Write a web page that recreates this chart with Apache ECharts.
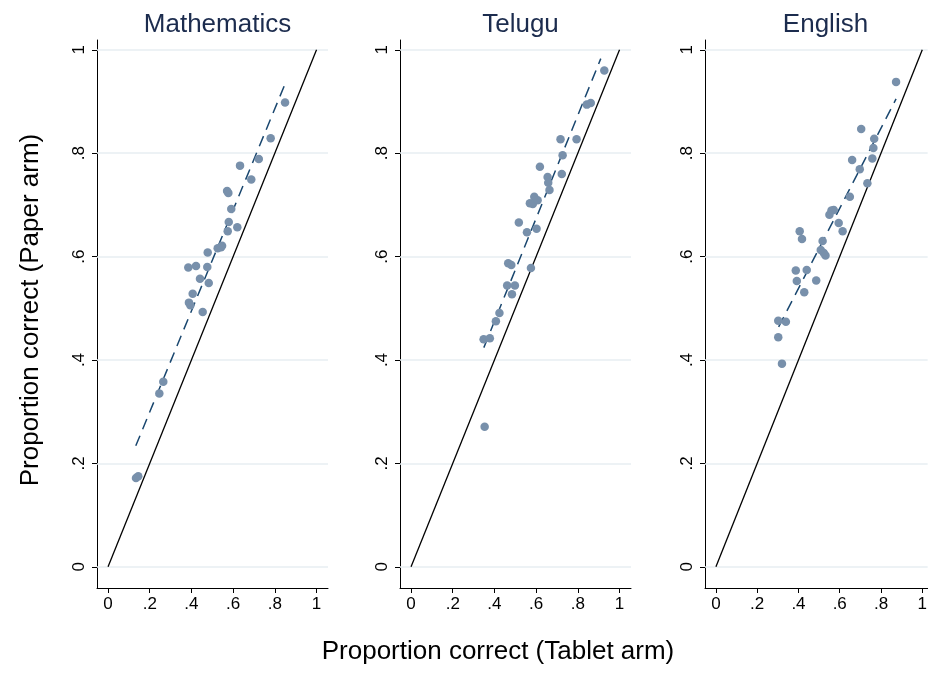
<!DOCTYPE html>
<html>
<head>
<meta charset="utf-8">
<script src="https://cdn.jsdelivr.net/npm/echarts@6/dist/echarts.min.js"></script>
<style>
  html, body { margin: 0; padding: 0; background: #fff; }
  #main { width: 930px; height: 673px; }
</style>
</head>
<body>
<div id="main"></div>
<script>
// tick positions shared by every panel
var ticks = [0, 0.2, 0.4, 0.6, 0.8, 1];
var diagonal = [[0, 0], [1, 1]];
var panelTitles = ["Mathematics", "Telugu", "English"];

// Mathematics: tablet (x) vs paper (y)
var mathTablet = [0.849, 0.780, 0.723, 0.633, 0.687, 0.571, 0.577, 0.591, 0.579, 0.620, 0.574,
  0.547, 0.526, 0.542, 0.478, 0.385, 0.422, 0.476, 0.441, 0.483, 0.406, 0.388, 0.395, 0.454,
  0.265, 0.246, 0.134, 0.145];
var mathPaper = [0.898, 0.829, 0.789, 0.776, 0.749, 0.727, 0.723, 0.692, 0.667, 0.657, 0.649,
  0.621, 0.616, 0.618, 0.608, 0.579, 0.582, 0.580, 0.557, 0.549, 0.528, 0.511, 0.506, 0.493,
  0.358, 0.335, 0.172, 0.175];
var mathFit = [[0.133, 0.234], [0.849, 0.934]];

// Telugu
var teluguTablet = [0.927, 0.843, 0.862, 0.717, 0.794, 0.727, 0.618, 0.723, 0.655, 0.658, 0.664,
  0.591, 0.570, 0.584, 0.607, 0.517, 0.602, 0.556, 0.466, 0.481, 0.575, 0.461, 0.498, 0.484,
  0.424, 0.407, 0.348, 0.378, 0.353];
var teluguPaper = [0.960, 0.894, 0.897, 0.827, 0.827, 0.796, 0.774, 0.760, 0.754, 0.743, 0.729,
  0.716, 0.703, 0.702, 0.709, 0.666, 0.654, 0.647, 0.587, 0.584, 0.578, 0.544, 0.544, 0.527,
  0.491, 0.475, 0.440, 0.442, 0.271];
var teluguFit = [[0.349, 0.424], [0.910, 0.983]];

// English
var englishTablet = [0.873, 0.704, 0.767, 0.763, 0.758, 0.660, 0.697, 0.734, 0.649, 0.571, 0.560,
  0.550, 0.595, 0.614, 0.406, 0.417, 0.517, 0.508, 0.523, 0.531, 0.387, 0.440, 0.392, 0.486,
  0.428, 0.302, 0.339, 0.302, 0.320];
var englishPaper = [0.938, 0.847, 0.828, 0.810, 0.790, 0.787, 0.769, 0.742, 0.716, 0.690, 0.689,
  0.681, 0.665, 0.649, 0.649, 0.634, 0.630, 0.613, 0.607, 0.602, 0.573, 0.574, 0.553, 0.554,
  0.531, 0.476, 0.474, 0.444, 0.393];
var englishFit = [[0.304, 0.464], [0.873, 0.905]];

var panels = [
  { xs: mathTablet, ys: mathPaper, fit: mathFit },
  { xs: teluguTablet, ys: teluguPaper, fit: teluguFit },
  { xs: englishTablet, ys: englishPaper, fit: englishFit }
];

// the last panel is cut off by the right edge, as in the original
var gridLefts = [97, 400, 705];
var gridWidths = [231, 231, 225];
var xMaxes = [1.055, 1.055, 1.026];
var textFont = "Liberation Sans, Arial, sans-serif";

function tickLabel(v) {
  if (v === 0) return "0";
  if (v === 1) return "1";
  return String(v).replace(/^0/, "");
}

var option = {
  backgroundColor: "#fff",
  animation: false,
  title: [],
  grid: [],
  xAxis: [],
  yAxis: [],
  series: [],
  graphic: [
    {
      type: "text",
      x: 498, y: 652,
      style: {
        text: "Proportion correct (Tablet arm)",
        font: "26px " + textFont,
        fill: "#000",
        align: "center",
        verticalAlign: "middle"
      }
    },
    {
      type: "text",
      x: 31, y: 310,
      rotation: Math.PI / 2,
      style: {
        text: "Proportion correct (Paper arm)",
        font: "26px " + textFont,
        fill: "#000",
        align: "center",
        verticalAlign: "middle"
      }
    }
  ]
};

panels.forEach(function (p, i) {
  option.title.push({
    text: panelTitles[i],
    left: gridLefts[i] + 115.5,
    top: 7,
    textAlign: "center",
    textStyle: { fontFamily: textFont, fontSize: 26, fontWeight: "normal", color: "#1c2c4e" }
  });
  option.grid.push({ left: gridLefts[i], top: 40, width: gridWidths[i], height: 548 });
  option.xAxis.push({
    type: "value",
    gridIndex: i,
    min: -0.053,
    max: xMaxes[i],
    axisLine: { show: true, onZero: false, lineStyle: { color: "#000", width: 1 } },
    axisTick: { show: true, length: 5, customValues: ticks, lineStyle: { color: "#000" } },
    axisLabel: {
      customValues: ticks,
      formatter: tickLabel,
      margin: 8,
      fontFamily: textFont,
      fontSize: 17,
      color: "#000"
    },
    splitLine: { show: false }
  });
  option.yAxis.push({
    type: "value",
    gridIndex: i,
    min: -0.041,
    max: 1.019,
    axisLine: { show: true, onZero: false, lineStyle: { color: "#000", width: 1 } },
    axisTick: { show: true, length: 5, customValues: ticks, lineStyle: { color: "#000" } },
    axisLabel: {
      customValues: ticks,
      formatter: tickLabel,
      rotate: 90,
      margin: 9,
      fontFamily: textFont,
      fontSize: 17,
      color: "#000"
    },
    splitLine: { show: false }
  });
  // 45 degree line, carries the horizontal grid lines
  option.series.push({
    type: "line",
    xAxisIndex: i,
    yAxisIndex: i,
    data: diagonal,
    symbol: "none",
    z: 2,
    lineStyle: { color: "#000", width: 1.3 },
    markLine: {
      silent: true,
      symbol: ["none", "none"],
      label: { show: false },
      z: 1,
      lineStyle: { color: "#e7eef2", width: 1.6, type: "solid" },
      data: ticks.map(function (t) { return { yAxis: t }; })
    }
  });
  // fitted line
  option.series.push({
    type: "line",
    xAxisIndex: i,
    yAxisIndex: i,
    data: p.fit,
    symbol: "none",
    z: 3,
    lineStyle: { color: "#1a476f", width: 1.5, type: [11, 7] }
  });
  option.series.push({
    type: "scatter",
    xAxisIndex: i,
    yAxisIndex: i,
    data: p.xs.map(function (x, k) { return [x, p.ys[k]]; }),
    symbolSize: 8.5,
    z: 4,
    itemStyle: { color: "#7890ab", opacity: 1 }
  });
});

var chart = echarts.init(document.getElementById("main"));
chart.setOption(option);
</script>
</body>
</html>
